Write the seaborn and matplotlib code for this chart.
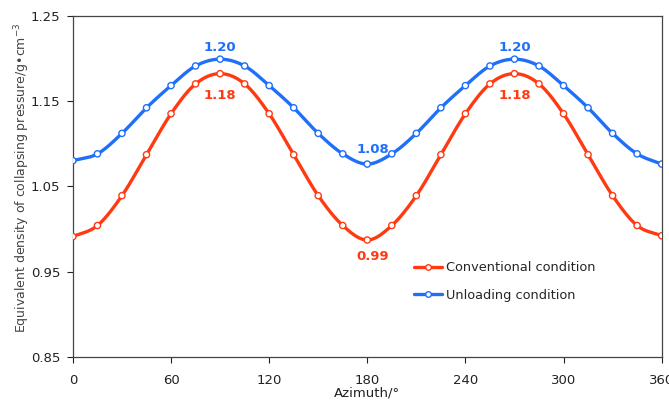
import numpy as np
import pandas as pd
import matplotlib
matplotlib.use("Agg")
import matplotlib.pyplot as plt
import seaborn as sns

# Azimuth angles (degrees) and equivalent density of collapsing pressure (g/cm3)
azimuth = [0, 15, 30, 45, 60, 75, 90, 105, 120, 135, 150, 165, 180,
           195, 210, 225, 240, 255, 270, 285, 300, 315, 330, 345, 360]
conventional = [0.991, 1.004, 1.039, 1.087, 1.135, 1.170, 1.182, 1.170, 1.135,
                1.087, 1.039, 1.004, 0.987, 1.004, 1.039, 1.087, 1.135, 1.170,
                1.182, 1.170, 1.135, 1.087, 1.039, 1.004, 0.992]
unloading = [1.080, 1.088, 1.112, 1.142, 1.168, 1.191, 1.199, 1.191, 1.168,
             1.142, 1.112, 1.088, 1.076, 1.088, 1.112, 1.142, 1.168, 1.191,
             1.199, 1.191, 1.168, 1.142, 1.112, 1.088, 1.076]
series_names = ["Conventional condition", "Unloading condition"]
x_ticks = [0, 60, 120, 180, 240, 300, 360]
y_ticks = [0.85, 0.95, 1.05, 1.15, 1.25]

RED = "#FF3A12"
BLUE = "#1F6FFA"

sns.set_theme(style="white")
plt.rcParams["font.family"] = ["DejaVu Sans"]


def smooth_curve(x, y, steps=20):
    """Catmull-Rom spline through the measured points (smoothed line)."""
    x = np.asarray(x, float)
    y = np.asarray(y, float)
    px = np.concatenate([[2 * x[0] - x[1]], x, [2 * x[-1] - x[-2]]])
    py = np.concatenate([[2 * y[0] - y[1]], y, [2 * y[-1] - y[-2]]])
    xs, ys = [], []
    t = np.linspace(0, 1, steps, endpoint=False)
    for i in range(1, len(px) - 2):
        p0, p1, p2, p3 = py[i - 1], py[i], py[i + 1], py[i + 2]
        q0, q1, q2, q3 = px[i - 1], px[i], px[i + 1], px[i + 2]
        for arr, a0, a1, a2, a3 in ((xs, q0, q1, q2, q3), (ys, p0, p1, p2, p3)):
            arr.extend(0.5 * (2 * a1 + (-a0 + a2) * t
                              + (2 * a0 - 5 * a1 + 4 * a2 - a3) * t ** 2
                              + (-a0 + 3 * a1 - 3 * a2 + a3) * t ** 3))
    xs.append(x[-1])
    ys.append(y[-1])
    return np.array(xs), np.array(ys)


df = pd.DataFrame({
    "azimuth": azimuth * 2,
    "density": conventional + unloading,
    "condition": [series_names[0]] * len(azimuth) + [series_names[1]] * len(azimuth),
})

fig = plt.figure(figsize=(6.69, 4.01), dpi=100)
ax = fig.add_axes([0.109, 0.110, 0.880, 0.851])

palette = {series_names[0]: RED, series_names[1]: BLUE}
for name, vals in ((series_names[0], conventional), (series_names[1], unloading)):
    sx, sy = smooth_curve(azimuth, vals)
    ax.plot(sx, sy, color=palette[name], lw=2.4, solid_capstyle="round", zorder=2)

sns.scatterplot(data=df, x="azimuth", y="density", hue="condition",
                palette=palette, ax=ax, s=20, facecolor="white",
                linewidth=1.0, legend=False, zorder=3)
# white-filled markers with coloured edges
coll = ax.collections[-1]
edge = [RED if c == series_names[0] else BLUE for c in df["condition"]]
coll.set_edgecolors(edge)
coll.set_facecolors("white")

# Value labels at peaks and troughs
i90, i180, i270 = azimuth.index(90), azimuth.index(180), azimuth.index(270)
lab_kw = dict(fontsize=9.5, fontweight="bold", ha="center")
for i in (i90, i270):
    ax.annotate(f"{unloading[i]:.2f}", (azimuth[i], unloading[i]), xytext=(0, 4),
                textcoords="offset points", va="bottom", color=BLUE, **lab_kw)
    ax.annotate(f"{conventional[i]:.2f}", (azimuth[i], conventional[i]), xytext=(0, -11),
                textcoords="offset points", va="top", color=RED, **lab_kw)
ax.annotate(f"{unloading[i180]:.2f}", (azimuth[i180], unloading[i180]), xytext=(4, 6),
            textcoords="offset points", va="bottom", color=BLUE, **lab_kw)
ax.annotate(f"{conventional[i180]:.2f}", (azimuth[i180], conventional[i180]), xytext=(4, -7),
            textcoords="offset points", va="top", color=RED, **lab_kw)

ax.set_xlim(0, 360)
ax.set_ylim(0.85, 1.25)
ax.set_xticks(x_ticks)
ax.set_xticklabels([str(v) for v in x_ticks])
ax.set_yticks(y_ticks)
ax.set_yticklabels([f"{v:.2f}" for v in y_ticks])
ax.tick_params(axis="both", labelsize=9.5, colors="#222222", direction="out",
               length=4, width=0.8, left=True, bottom=True, pad=5)
ax.tick_params(axis="x", pad=8)
for side in ("left", "bottom", "top", "right"):
    ax.spines[side].set_visible(True)
    ax.spines[side].set_color("#444444")
    ax.spines[side].set_linewidth(0.9)
ax.grid(False)

ax.set_xlabel("Azimuth/°", fontsize=9.5, color="#222222", labelpad=0)
ax.set_ylabel("Equivalent density of collapsing pressure/g•cm$^{-3}$",
              fontsize=9, color="#444444")
ax.yaxis.set_label_coords(-0.07, 0.526)

handles = [plt.Line2D([], [], color=palette[n], lw=2.4, marker="o", markersize=4,
                      markerfacecolor="white", markeredgecolor=palette[n]) for n in series_names]
ax.legend(handles, series_names, loc="upper left", bbox_to_anchor=(0.57, 0.295),
          frameon=False, fontsize=9.3, handlelength=2.2, handletextpad=0.3,
          labelspacing=1.1, borderaxespad=0)

fig.savefig("out.png", dpi=100)
